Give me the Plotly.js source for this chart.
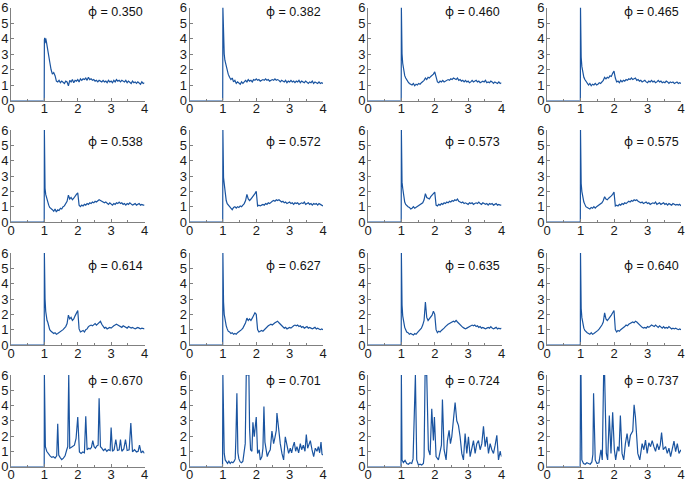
<!DOCTYPE html>
<html>
<head>
<meta charset="utf-8">
<script src="https://cdn.plot.ly/plotly-3.0.1.min.js"></script>
<style>html,body{margin:0;padding:0;background:#fff}#plot{width:685px;height:482px}</style>
</head>
<body>
<div id="plot"></div>
<script>
// ---- data ----
const phiLabels = ["0.350","0.382","0.460","0.465","0.538","0.572","0.573","0.575","0.614","0.627","0.635","0.640","0.670","0.701","0.724","0.737"];

// shared r grid for the first 12 panels (rows 1-3)
const rGrid = [0, 0.995, 1.0, 1.01, 1.02, 1.04, 1.06, 1.08, 1.10, 1.13, 1.16,
 1.20, 1.24, 1.28, 1.32, 1.36, 1.40, 1.44, 1.48, 1.52, 1.56,
 1.60, 1.64, 1.68, 1.72, 1.76, 1.80, 1.84, 1.88, 1.92, 1.96,
 2.00, 2.04, 2.08, 2.12, 2.16, 2.20, 2.24, 2.28, 2.32, 2.36,
 2.40, 2.44, 2.48, 2.52, 2.56, 2.60, 2.64, 2.68, 2.72, 2.76,
 2.80, 2.84, 2.88, 2.92, 2.96, 3.00, 3.04, 3.08, 3.12, 3.16,
 3.20, 3.24, 3.28, 3.32, 3.36, 3.40, 3.44, 3.48, 3.52, 3.56,
 3.60, 3.64, 3.68, 3.72, 3.76, 3.80, 3.84, 3.88, 3.92, 3.96,
 4.00];

const g350 = [0, 0, 3.9, 4.05, 3.7, 4.0, 3.8, 3.5, 3.1, 2.8, 2.5,
 2.0, 1.7, 1.8, 1.6, 1.25, 1.2, 1.3, 1.15, 1.25, 1.2,
 1.1, 1.25, 1.2, 0.95, 1.3, 1.2, 1.35, 1.15, 1.3, 1.25,
 1.35, 1.2, 1.4, 1.3, 1.4, 1.35, 1.45, 1.3, 1.5, 1.35,
 1.4, 1.3, 1.35, 1.25, 1.3, 1.2, 1.3, 1.25, 1.2, 1.3,
 1.2, 1.25, 1.15, 1.3, 1.2, 1.25, 1.15, 1.3, 1.2, 1.35,
 1.25, 1.3, 1.2, 1.3, 1.25, 1.2, 1.3, 1.15, 1.25, 1.2,
 1.1, 1.25, 1.15, 1.2, 1.1, 1.2, 1.15, 1.05, 1.2, 1.1,
 1.15];
const g382 = [0, 0, 6.0, 4.6, 3.8, 3.0, 2.6, 2.4, 2.1, 1.9, 1.7,
 1.5, 1.35, 1.45, 1.2, 1.3, 1.1, 1.2, 1.15, 1.05, 1.2,
 1.1, 1.2, 1.3, 1.2, 1.35, 1.25, 1.3, 1.2, 1.35, 1.3,
 1.4, 1.3, 1.35, 1.25, 1.3, 1.35, 1.3, 1.4, 1.3, 1.35,
 1.25, 1.3, 1.35, 1.3, 1.4, 1.3, 1.35, 1.3, 1.2, 1.3,
 1.25, 1.2, 1.3, 1.15, 1.25, 1.2, 1.3, 1.2, 1.25, 1.15,
 1.25, 1.2, 1.3, 1.15, 1.25, 1.2, 1.15, 1.25, 1.2, 1.1,
 1.2, 1.15, 1.25, 1.1, 1.2, 1.15, 1.1, 1.2, 1.1, 1.15,
 1.1];
const g460 = [0, 0, 6.0, 3.8, 3.0, 2.4, 2.0, 1.8, 1.6, 1.45, 1.3,
 1.2, 1.1, 1.05, 1.0, 1.1, 0.95, 1.05, 1.0, 1.1, 1.05,
 1.15, 1.2, 1.3, 1.45, 1.35, 1.5, 1.45, 1.55, 1.6, 1.7,
 1.85, 1.4, 1.2, 1.15, 1.25, 1.2, 1.3, 1.2, 1.25, 1.3,
 1.35, 1.3, 1.4, 1.35, 1.45, 1.4, 1.35, 1.45, 1.3, 1.35,
 1.25, 1.3, 1.2, 1.3, 1.2, 1.25, 1.15, 1.2, 1.3, 1.2,
 1.25, 1.3, 1.2, 1.25, 1.15, 1.2, 1.25, 1.2, 1.3, 1.15,
 1.2, 1.15, 1.25, 1.2, 1.1, 1.2, 1.15, 1.1, 1.2, 1.1,
 1.15];
const g465 = [0, 0, 6.0, 3.6, 2.8, 2.2, 1.9, 1.7, 1.5, 1.35, 1.25,
 1.15, 1.0, 1.1, 0.95, 1.05, 1.0, 1.1, 1.0, 1.05, 1.15,
 1.1, 1.2, 1.3, 1.5, 1.4, 1.5, 1.45, 1.6, 1.55, 1.75,
 1.9, 1.45, 1.2, 1.25, 1.15, 1.3, 1.2, 1.3, 1.25, 1.35,
 1.3, 1.4, 1.35, 1.45, 1.35, 1.4, 1.45, 1.3, 1.35, 1.25,
 1.3, 1.2, 1.25, 1.3, 1.2, 1.15, 1.25, 1.2, 1.3, 1.2,
 1.25, 1.15, 1.2, 1.3, 1.2, 1.25, 1.15, 1.2, 1.15, 1.25,
 1.2, 1.1, 1.2, 1.15, 1.2, 1.1, 1.15, 1.2, 1.1, 1.15,
 1.1];
const g538 = [0, 0, 6.0, 2.8, 2.2, 1.8, 1.6, 1.4, 1.25, 1.1, 0.95,
 0.9, 0.8, 0.7, 0.85, 0.65, 0.8, 0.75, 0.9, 0.85, 1.0,
 1.05, 1.2, 1.35, 1.75, 1.5, 1.6, 1.45, 1.55, 1.7, 1.8,
 1.9, 1.1, 1.0, 1.1, 1.05, 1.15, 1.1, 1.2, 1.15, 1.25,
 1.2, 1.3, 1.25, 1.35, 1.3, 1.4, 1.45, 1.4, 1.35, 1.3,
 1.25, 1.3, 1.2, 1.15, 1.25, 1.2, 1.1, 1.2, 1.15, 1.25,
 1.2, 1.3, 1.2, 1.25, 1.15, 1.2, 1.1, 1.2, 1.15, 1.25,
 1.2, 1.1, 1.15, 1.2, 1.1, 1.15, 1.2, 1.1, 1.15, 1.1,
 1.1];
const g572 = [0, 0, 6.0, 3.4, 2.9, 2.5, 2.0, 1.7, 1.4, 1.2, 1.1,
 1.05, 0.9, 0.8, 0.95, 1.0, 0.9, 1.0, 0.95, 1.05, 1.0,
 1.1, 1.2, 1.4, 1.8, 1.5, 1.4, 1.5, 1.6, 1.7, 1.85,
 2.0, 1.05, 1.1, 1.05, 1.1, 1.15, 1.1, 1.2, 1.15, 1.25,
 1.2, 1.3, 1.35, 1.4, 1.35, 1.45, 1.4, 1.45, 1.35, 1.3,
 1.35, 1.25, 1.3, 1.2, 1.25, 1.3, 1.2, 1.25, 1.15, 1.25,
 1.2, 1.25, 1.15, 1.2, 1.25, 1.2, 1.3, 1.15, 1.2, 1.25,
 1.15, 1.2, 1.1, 1.2, 1.15, 1.2, 1.1, 1.2, 1.15, 1.1,
 1.05];
const g573 = [0, 0, 6.0, 3.2, 2.6, 2.2, 1.8, 1.5, 1.3, 1.15, 1.05,
 1.0, 0.95, 0.85, 0.9, 1.0, 0.9, 0.95, 1.0, 1.05, 1.1,
 1.15, 1.25, 1.45, 1.85, 1.6, 1.55, 1.5, 1.65, 1.75, 1.85,
 1.95, 1.1, 1.05, 1.15, 1.1, 1.2, 1.15, 1.25, 1.2, 1.3,
 1.25, 1.35, 1.3, 1.4, 1.35, 1.45, 1.4, 1.5, 1.35, 1.3,
 1.25, 1.3, 1.2, 1.25, 1.2, 1.15, 1.25, 1.2, 1.25, 1.15,
 1.2, 1.25, 1.2, 1.3, 1.2, 1.15, 1.25, 1.2, 1.15, 1.2,
 1.1, 1.2, 1.15, 1.2, 1.1, 1.15, 1.2, 1.1, 1.15, 1.1,
 1.1];
const g575 = [0, 0, 6.0, 3.0, 2.5, 2.0, 1.7, 1.45, 1.3, 1.15, 1.0,
 0.95, 0.9, 0.85, 0.95, 0.9, 1.0, 0.9, 1.0, 1.05, 1.1,
 1.15, 1.25, 1.4, 1.65, 1.5, 1.45, 1.55, 1.6, 1.7, 1.8,
 1.95, 1.05, 1.1, 1.05, 1.15, 1.1, 1.2, 1.15, 1.25, 1.2,
 1.3, 1.35, 1.3, 1.4, 1.35, 1.45, 1.4, 1.45, 1.35, 1.3,
 1.25, 1.3, 1.2, 1.25, 1.3, 1.2, 1.25, 1.15, 1.2, 1.25,
 1.2, 1.3, 1.15, 1.2, 1.25, 1.15, 1.2, 1.25, 1.15, 1.2,
 1.1, 1.2, 1.15, 1.1, 1.2, 1.15, 1.1, 1.15, 1.1, 1.15,
 1.05];
const g614 = [0, 0, 6.0, 3.6, 3.0, 2.2, 1.8, 1.6, 1.5, 1.2, 1.0,
 0.9, 0.8, 0.75, 0.8, 0.7, 0.75, 0.8, 0.85, 0.95, 1.0,
 1.1, 1.2, 1.4, 1.95, 1.7, 1.8, 1.6, 1.7, 1.9, 2.05,
 2.25, 1.05, 0.85, 0.9, 0.95, 0.85, 1.0, 1.05, 1.2, 1.25,
 1.3, 1.25, 1.35, 1.4, 1.3, 1.4, 1.45, 1.55, 1.35, 1.2,
 1.1, 1.15, 1.05, 1.1, 1.15, 1.1, 1.2, 1.25, 1.3, 1.35,
 1.3, 1.25, 1.2, 1.15, 1.25, 1.2, 1.15, 1.1, 1.2, 1.15,
 1.1, 1.15, 1.1, 1.05, 1.1, 1.15, 1.1, 1.05, 1.1, 1.05,
 1.05];
const g627 = [0, 0, 6.0, 3.4, 2.8, 2.0, 1.6, 1.4, 1.25, 1.05, 0.9,
 0.85, 0.75, 0.8, 0.7, 0.75, 0.7, 0.8, 0.85, 0.95, 1.0,
 1.1, 1.25, 1.45, 1.75, 1.6, 1.7, 1.6, 1.75, 1.9, 2.1,
 2.0, 1.0, 0.85, 0.9, 0.95, 0.9, 1.0, 1.1, 1.15, 1.25,
 1.3, 1.35, 1.3, 1.4, 1.45, 1.5, 1.55, 1.45, 1.35, 1.25,
 1.2, 1.1, 1.15, 1.05, 1.1, 1.15, 1.1, 1.2, 1.25, 1.3,
 1.25, 1.3, 1.2, 1.25, 1.15, 1.2, 1.1, 1.15, 1.2, 1.1,
 1.15, 1.1, 1.05, 1.1, 1.15, 1.05, 1.1, 1.05, 1.0, 1.05,
 1.0];
const g635 = [0, 0, 6.0, 3.2, 2.6, 1.9, 1.5, 1.3, 1.15, 1.0, 0.85,
 0.8, 0.7, 0.75, 0.7, 0.65, 0.75, 0.7, 0.8, 0.9, 1.0,
 1.1, 1.3, 1.6, 2.8, 1.8, 1.6, 1.7, 1.8, 1.95, 2.2,
 2.0, 1.0, 0.8, 0.9, 0.85, 0.95, 1.0, 1.1, 1.2, 1.3,
 1.35, 1.4, 1.45, 1.5, 1.55, 1.5, 1.6, 1.5, 1.4, 1.3,
 1.2, 1.15, 1.1, 1.05, 1.1, 1.15, 1.2, 1.25, 1.3, 1.25,
 1.3, 1.2, 1.25, 1.15, 1.2, 1.1, 1.15, 1.1, 1.05, 1.1,
 1.15, 1.1, 1.2, 1.1, 1.05, 1.1, 1.15, 1.05, 1.1, 1.05,
 1.1];
const g640 = [0, 0, 6.0, 3.0, 2.4, 1.8, 1.5, 1.3, 1.1, 0.95, 0.85,
 0.8, 0.75, 0.7, 0.8, 0.7, 0.75, 0.8, 0.85, 0.95, 1.05,
 1.15, 1.3, 1.5, 2.1, 1.7, 1.6, 1.7, 1.8, 1.95, 2.1,
 2.25, 1.0, 0.85, 0.95, 0.9, 1.0, 1.05, 1.15, 1.2, 1.3,
 1.25, 1.35, 1.4, 1.45, 1.5, 1.45, 1.55, 1.5, 1.4, 1.3,
 1.25, 1.15, 1.1, 1.15, 1.1, 1.2, 1.15, 1.25, 1.3, 1.25,
 1.2, 1.3, 1.2, 1.15, 1.25, 1.15, 1.1, 1.2, 1.1, 1.15,
 1.1, 1.2, 1.1, 1.05, 1.1, 1.05, 1.1, 1.05, 1.0, 1.05,
 1.0];

// crystalline panels (row 4), each with its own r points
const r670 = [0, 0.995, 1.00, 1.01, 1.03, 1.07, 1.12, 1.17, 1.22, 1.27,
 1.32, 1.37, 1.40, 1.43, 1.47, 1.52, 1.57, 1.62, 1.67, 1.70,
 1.73, 1.76, 1.80, 1.85, 1.90, 1.95, 2.00, 2.05, 2.10, 2.15,
 2.20, 2.24, 2.28, 2.33, 2.37, 2.41, 2.45, 2.49, 2.53, 2.57,
 2.61, 2.64, 2.68, 2.72, 2.77, 2.82, 2.87, 2.92, 2.97, 3.00,
 3.04, 3.09, 3.14, 3.19, 3.24, 3.28, 3.32, 3.38, 3.43, 3.48,
 3.54, 3.59, 3.64, 3.70, 3.76, 3.81, 3.85, 3.90, 3.95, 4.00];
const g670 = [0, 0, 6.0, 1.95, 1.3, 1.0, 0.8, 0.7, 0.6, 0.65,
 0.55, 0.7, 2.8, 0.75, 0.6, 0.45, 0.55, 0.7, 1.1, 1.3,
 6.0, 1.2, 1.25, 1.3, 1.4, 1.85, 3.25, 0.95, 0.85, 0.95,
 0.9, 3.3, 1.1, 1.2, 1.15, 1.25, 1.7, 1.3, 1.2, 1.35,
 1.4, 4.47, 1.3, 1.2, 1.05, 1.15, 1.0, 1.1, 1.05, 2.55,
 1.0, 1.1, 1.77, 1.05, 1.1, 1.77, 1.0, 1.15, 1.77, 1.05,
 1.1, 2.85, 0.97, 1.1, 0.95, 1.0, 1.4, 0.9, 1.0, 0.86];

const r701 = [0, 0.99, 1.00, 1.02, 1.04, 1.07, 1.10, 1.14, 1.18, 1.22,
 1.26, 1.30, 1.34, 1.37, 1.39, 1.42, 1.45, 1.48, 1.52, 1.56,
 1.60, 1.64, 1.67, 1.70, 1.74, 1.78, 1.80, 1.83, 1.87, 1.90,
 1.94, 2.00, 2.04, 2.09, 2.12, 2.17, 2.20, 2.23, 2.26, 2.29,
 2.33, 2.37, 2.42, 2.47, 2.52, 2.56, 2.60, 2.62, 2.67, 2.72,
 2.77, 2.82, 2.87, 2.92, 2.97, 3.02, 3.06, 3.10, 3.14, 3.18,
 3.22, 3.27, 3.32, 3.36, 3.41, 3.46, 3.50, 3.54, 3.58, 3.62,
 3.67, 3.72, 3.77, 3.82, 3.86, 3.90, 3.94, 3.97, 4.00];
const g701 = [0, 0, 6, 1.6, 0.86, 0.43, 0.3, 0.2, 0.35, 0.2,
 0.3, 0.25, 0.35, 0.5, 1.85, 4.8, 0.9, 0.5, 0.3, 0.25,
 0.35, 0.86, 1.5, 6, 6, 6, 2.5, 1.1, 1.0, 2.9,
 1.95, 3.25, 0.86, 1.1, 0.43, 0.65, 1.2, 3.93, 1.6, 1.1,
 0.65, 0.9, 1.1, 2.33, 1.5, 1.9, 2.37, 3.5, 2.4, 1.5,
 0.86, 0.43, 1.95, 1.4, 0.86, 1.2, 0.9, 1.3, 1.6, 1.0,
 1.3, 0.9, 1.5, 1.1, 1.4, 1.0, 2.1, 1.2, 1.5, 1.7,
 1.1, 0.65, 1.2, 1.0, 1.3, 0.9, 1.6, 0.8, 0.75];

const r724 = [0, 0.99, 1.00, 1.02, 1.06, 1.11, 1.16, 1.21, 1.26, 1.31,
 1.35, 1.37, 1.40, 1.42, 1.46, 1.51, 1.56, 1.61, 1.66, 1.68,
 1.71, 1.76, 1.81, 1.86, 1.91, 1.96, 1.99, 2.04, 2.11, 2.16,
 2.20, 2.23, 2.28, 2.34, 2.38, 2.43, 2.47, 2.51, 2.56, 2.61,
 2.66, 2.71, 2.76, 2.81, 2.86, 2.91, 2.96, 3.01, 3.06, 3.11,
 3.16, 3.21, 3.26, 3.31, 3.36, 3.41, 3.46, 3.51, 3.56, 3.61,
 3.66, 3.71, 3.76, 3.81, 3.86, 3.91, 3.96, 4.00];
const g724 = [0, 0, 6, 0.43, 0.25, 0.4, 0.2, 0.15, 0.25, 0.2,
 0.5, 2.37, 6, 6, 0.43, 0.1, 0.15, 0.1, 0.2, 0.65,
 6, 6, 1.1, 0.75, 3.78, 1.7, 3.25, 0.65, 0.43, 0.86,
 1.4, 4.4, 1.1, 0.43, 1.7, 2.37, 1.5, 1.95, 2.9, 4.2,
 3.0, 2.7, 1.95, 0.86, 0.43, 2.16, 0.86, 1.95, 0.65, 1.3,
 1.7, 0.86, 1.5, 1.7, 1.1, 1.5, 2.63, 1.3, 1.95, 0.86,
 1.5, 1.1, 0.86, 1.4, 2.05, 0.43, 1.0, 0.65];

const r737 = [0, 0.99, 1.00, 1.015, 1.04, 1.09, 1.14, 1.19, 1.24, 1.29,
 1.34, 1.37, 1.39, 1.42, 1.44, 1.49, 1.55, 1.61, 1.65, 1.69,
 1.72, 1.77, 1.81, 1.86, 1.91, 1.96, 2.01, 2.05, 2.11, 2.15,
 2.19, 2.24, 2.29, 2.34, 2.39, 2.44, 2.49, 2.56, 2.60, 2.64,
 2.67, 2.71, 2.77, 2.84, 2.89, 2.94, 2.99, 3.04, 3.09, 3.14,
 3.19, 3.24, 3.29, 3.34, 3.38, 3.42, 3.47, 3.54, 3.59, 3.64,
 3.69, 3.74, 3.79, 3.84, 3.89, 3.94, 4.00];
const g737 = [0, 0, 6, 6, 0.43, 0.2, 0.15, 0.25, 0.2, 0.15,
 0.3, 0.8, 4.8, 0.9, 0.43, 0.2, 0.25, 1.1, 0.43, 6,
 6, 0.86, 0.43, 3.35, 0.86, 3.56, 1.1, 0.43, 1.3, 1.0,
 3.35, 0.86, 0.43, 1.5, 2.16, 1.3, 2.05, 2.33, 4.04, 3.24,
 1.95, 0.86, 0.43, 1.5, 1.1, 1.73, 0.86, 1.55, 1.3, 1.7,
 1.3, 1.0, 1.5, 1.1, 1.4, 2.22, 1.1, 1.3, 0.86, 1.2,
 0.65, 1.3, 1.66, 0.97, 1.5, 0.86, 1.1];

const xTickVals = [0, 1, 2, 3, 4];
const yTickVals = [0, 1, 2, 3, 4, 5, 6];

// ---- assembly ----
const seriesX = [rGrid, rGrid, rGrid, rGrid, rGrid, rGrid, rGrid, rGrid, rGrid, rGrid, rGrid, rGrid, r670, r701, r724, r737];
const seriesY = [g350, g382, g460, g465, g538, g572, g573, g575, g614, g627, g635, g640, g670, g701, g724, g737];

const W = 685, H = 482;
const colPx = [[11, 144.5], [189.5, 323], [368, 501.5], [547, 681]];
const rowPx = [[7.5, 100.5], [130, 222], [253, 345], [375, 466.5]];
const labelOffset = [3.5, 11, 12, 5];

const lineColor = '#1a54a0';
const axisColor = '#808080';
const font = {family: 'Liberation Sans, Arial, sans-serif', size: 13, color: '#1a1a1a'};

const traces = [];
const layout = {
  width: W, height: H,
  margin: {l: 0, r: 0, t: 0, b: 0},
  paper_bgcolor: '#ffffff', plot_bgcolor: '#ffffff',
  showlegend: false,
  font: font,
  annotations: []
};

for (let i = 0; i < 16; i++) {
  const row = Math.floor(i / 4), col = i % 4;
  const n = i + 1;
  const xa = n === 1 ? 'x' : 'x' + n;
  const ya = n === 1 ? 'y' : 'y' + n;
  traces.push({
    x: seriesX[i], y: seriesY[i], xaxis: xa, yaxis: ya,
    type: 'scatter', mode: 'lines',
    line: {color: lineColor, width: 1.2}, hoverinfo: 'skip'
  });
  const xk = n === 1 ? 'xaxis' : 'xaxis' + n;
  const yk = n === 1 ? 'yaxis' : 'yaxis' + n;
  layout[xk] = {
    domain: [colPx[col][0] / W, colPx[col][1] / W],
    anchor: ya, range: [0, 4], fixedrange: true,
    tickmode: 'array', tickvals: xTickVals,
    ticks: 'inside', ticklen: 3, tickcolor: axisColor,
    ticklabelstandoff: -4,
    minor: {dtick: 0.5, ticks: 'inside', ticklen: 2, tickcolor: axisColor, showgrid: false},
    showline: true, linecolor: axisColor, linewidth: 1,
    showgrid: false, zeroline: false, tickfont: font
  };
  layout[yk] = {
    domain: [1 - rowPx[row][1] / H, 1 - rowPx[row][0] / H],
    anchor: xa, range: [0, 6], fixedrange: true,
    tickmode: 'array', tickvals: yTickVals,
    ticks: 'inside', ticklen: 3, tickcolor: axisColor,
    ticklabelstandoff: -1,
    showline: true, linecolor: axisColor, linewidth: 1,
    showgrid: false, zeroline: false, tickfont: font
  };
  layout.annotations.push({
    xref: 'paper', yref: 'paper',
    x: colPx[col][1] / W, y: 1 - (rowPx[row][0] + labelOffset[row]) / H,
    xanchor: 'right', yanchor: 'middle',
    text: '<span style="font-family:Noto Sans">\u03D5</span> = ' + phiLabels[i], showarrow: false,
    font: {family: 'Liberation Sans, Arial, sans-serif', size: 12.5, color: '#111'}
  });
}

Plotly.newPlot('plot', traces, layout, {staticPlot: true, displayModeBar: false});
</script>
</body>
</html>
